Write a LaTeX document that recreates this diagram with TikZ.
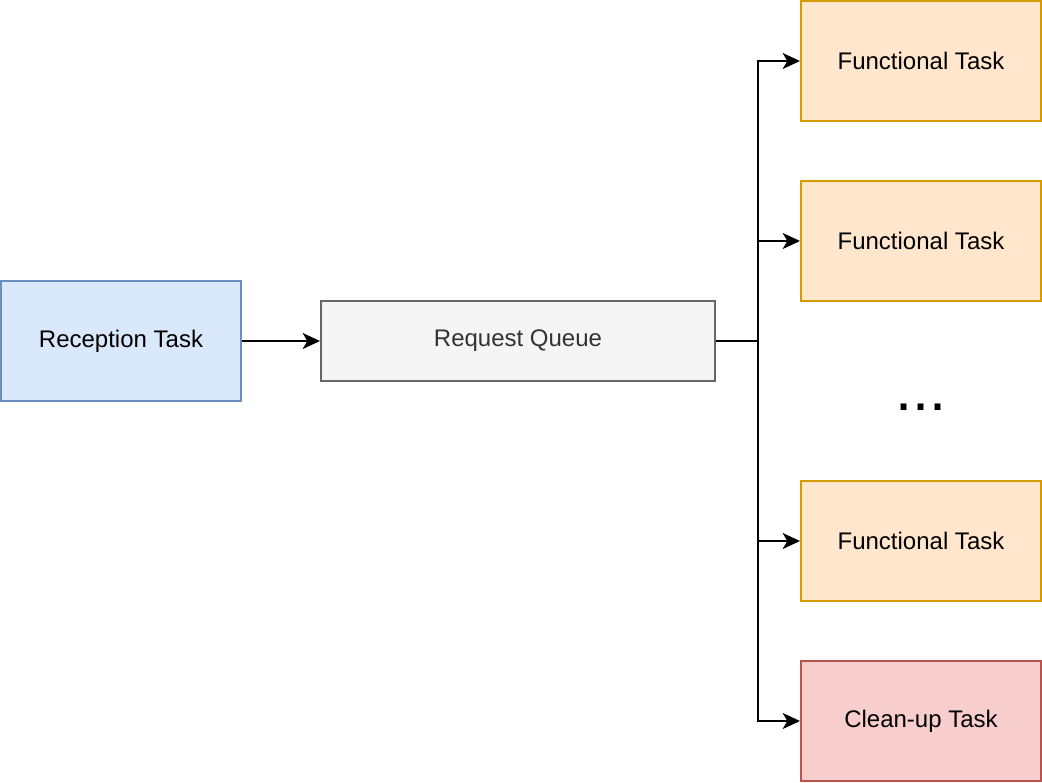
\documentclass[tikz,border=0pt]{standalone}
\usepackage{fontspec}
\setmainfont{Liberation Sans}
\usetikzlibrary{arrows.meta}
\definecolor{blueFill}{HTML}{DAE8FC}
\definecolor{blueLine}{HTML}{6C8EBF}
\definecolor{greyFill}{HTML}{F5F5F5}
\definecolor{greyLine}{HTML}{666666}
\definecolor{greyText}{HTML}{333333}
\definecolor{orangeFill}{HTML}{FFE6CC}
\definecolor{orangeLine}{HTML}{D79B00}
\definecolor{redFill}{HTML}{F8CECC}
\definecolor{redLine}{HTML}{B85450}
\begin{document}
\begin{tikzpicture}[x=0.75pt,y=-0.75pt,line join=miter,line width=1.5pt]
	\tikzset{every node/.style={font=\fontsize{18pt}{21pt}\selectfont},
		box/.style={draw,rectangle,line width=1.5pt,minimum width=180pt,minimum height=90pt,inner sep=0pt},
		recv/.style={box,fill=blueFill,draw=blueLine},
		queue/.style={box,fill=greyFill,draw=greyLine,text=greyText,minimum width=295.5pt,minimum height=60pt},
		func/.style={box,fill=orangeFill,draw=orangeLine},
		clean/.style={box,fill=redFill,draw=redLine},
		flow/.style={-{Stealth[length=13pt,width=12pt,inset=3.5pt]}}}
	\useasboundingbox (0,0) rectangle (1042,782);
	\node[recv] (rt) at (121,341) {Reception Task};
	\node[queue] (rq) at (518,341) {Request Queue};
	\node[func] (ft1) at (921,61) {Functional Task};
	\node[func] (ft2) at (921,241) {Functional Task};
	\node[func] (ft3) at (921,541) {Functional Task};
	\node[clean] (ct) at (921,721) {Clean-up Task};
	\node[font=\fontsize{46pt}{50pt}\selectfont] (dots) at (921,407) {...};
	\coordinate (fork) at (758,341);
	\draw[flow] (rt.east)--(rq.west);
	\draw (rq.east)--(fork);
	\foreach \t in {ft1,ft2,ft3,ct}
	\draw[flow] (fork) |- (\t.west);
\end{tikzpicture}
\end{document}
